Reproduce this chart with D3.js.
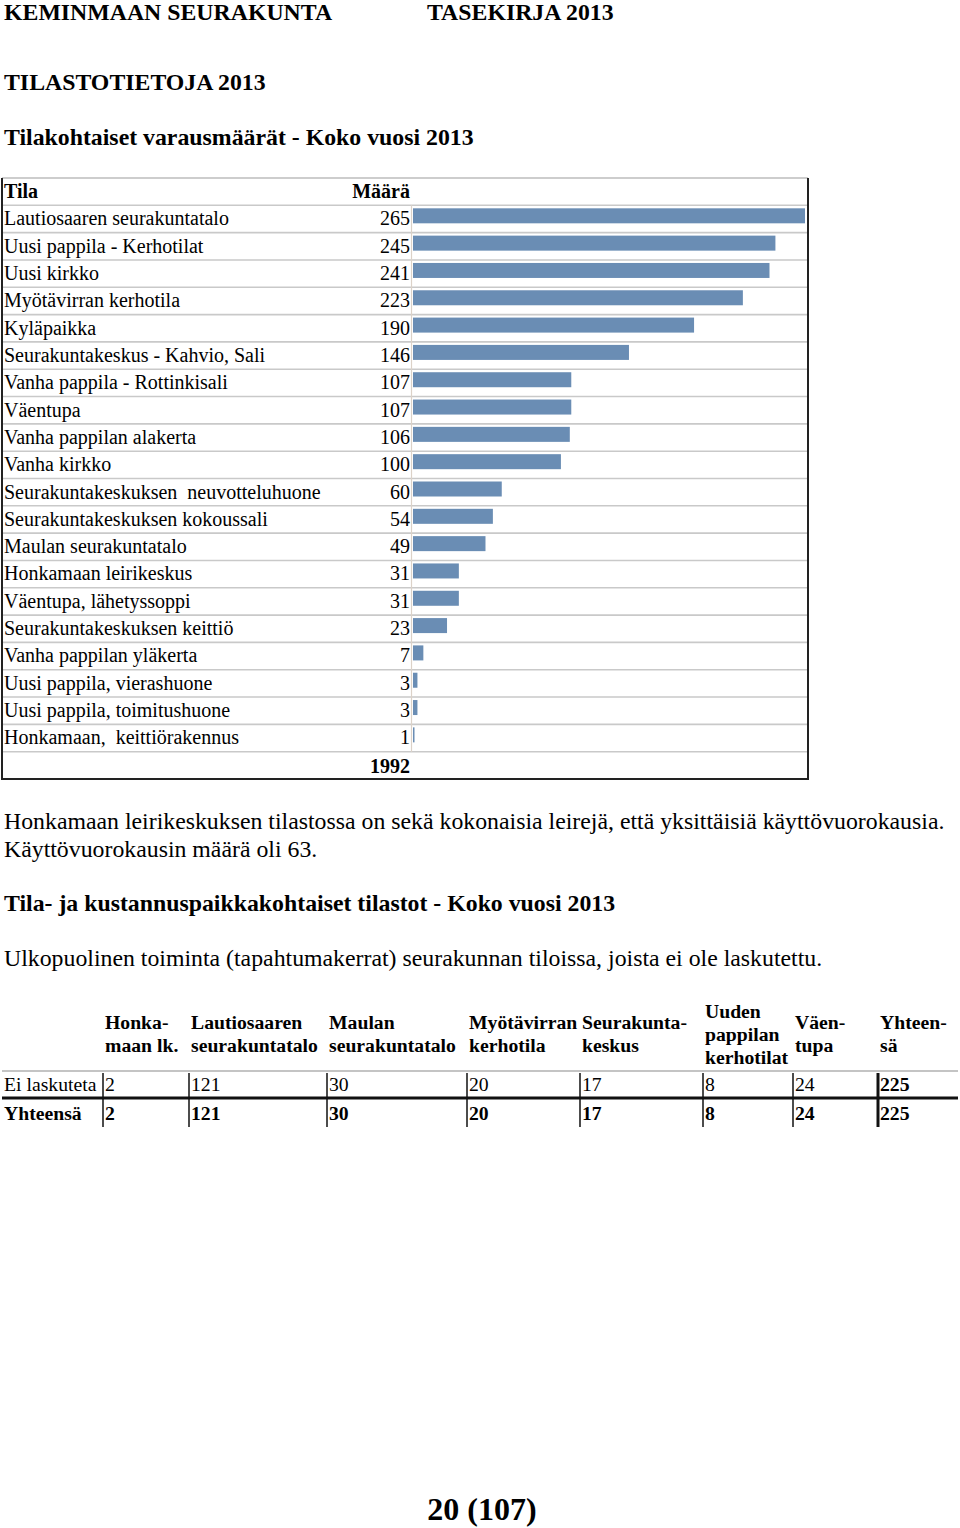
<!DOCTYPE html>
<html><head><meta charset="utf-8">
<script src="https://cdn.jsdelivr.net/npm/d3@7"></script>
<style>body{margin:0;background:#fff}svg{display:block}text{font-family:"Liberation Serif","Times New Roman",serif;fill:#000}</style>
</head><body>
<script>
const tilat = ["Lautiosaaren seurakuntatalo","Uusi pappila - Kerhotilat","Uusi kirkko","Myötävirran kerhotila","Kyläpaikka","Seurakuntakeskus - Kahvio, Sali","Vanha pappila - Rottinkisali","Väentupa","Vanha pappilan alakerta","Vanha kirkko","Seurakuntakeskuksen  neuvotteluhuone","Seurakuntakeskuksen kokoussali","Maulan seurakuntatalo","Honkamaan leirikeskus","Väentupa, lähetyssoppi","Seurakuntakeskuksen keittiö","Vanha pappilan yläkerta","Uusi pappila, vierashuone","Uusi pappila, toimitushuone","Honkamaan,  keittiörakennus"];
const maarat = [265,245,241,223,190,146,107,107,106,100,60,54,49,31,31,23,7,3,3,1];
const yhteensa = 1992;
const headers2 = [["Honka-","maan lk."],["Lautiosaaren","seurakuntatalo"],["Maulan","seurakuntatalo"],["Myötävirran","kerhotila"],["Seurakunta-","keskus"],["Uuden","pappilan","kerhotilat"],["Väen-","tupa"],["Yhteen-","sä"]];
const rowLabels2 = ["Ei laskuteta","Yhteensä"];
const eiLaskuteta = [2,121,30,20,17,8,24,225];
const yhteensa2 = [2,121,30,20,17,8,24,225];

const W=960,H=1528;
const svg=d3.select("body").append("svg").attr("width",W).attr("height",H);

function txt(x,y,s,size,bold,anchor){
  return svg.append("text").attr("x",x).attr("y",y).attr("font-size",size)
    .attr("font-weight",bold?"bold":"normal").attr("text-anchor",anchor||"start")
    .style("white-space","pre").text(s);
}
const HS=23.8, PS=23.8, TS=20, T2=19.7;
txt(4,20,"KEMINMAAN SEURAKUNTA",HS,true);
txt(427,20,"TASEKIRJA 2013",HS,true);
txt(4,90,"TILASTOTIETOJA 2013",HS,true);
txt(4,145,"Tilakohtaiset varausmäärät - Koko vuosi 2013",HS,true);

// Table 1
const tTop=178, tBot=779, tL=2, tR=808, nRows=tilat.length+2;
const y=d3.scaleBand().domain(d3.range(nRows)).range([tTop,tBot]);
const x=d3.scaleLinear().domain([0,d3.max(maarat)]).range([413,805]);
const g=svg.append("g");
for(let i=1;i<nRows;i++){
  g.append("line").attr("x1",tL).attr("x2",tR).attr("y1",y(i)).attr("y2",y(i))
   .attr("stroke","#c9c9c9").attr("stroke-width",1.6);
}
g.append("line").attr("x1",tL).attr("x2",tR).attr("y1",tTop).attr("y2",tTop).attr("stroke","#bdbdbd").attr("stroke-width",1.6);
g.append("line").attr("x1",411.5).attr("x2",411.5).attr("y1",y(1)).attr("y2",y(nRows-1)).attr("stroke","#dcd2c8").attr("stroke-width",1.2);
g.selectAll("rect.bar").data(maarat).join("rect").attr("class","bar")
  .attr("x",x(0)).attr("y",(d,i)=>y(i+1)+3).attr("height",15)
  .attr("width",d=>Math.max(1.5,x(d)-x(0))).attr("fill","#6a8db4");
txt(4,y(0)+20,"Tila",TS,true);
txt(410,y(0)+20,"Määrä",TS,true,"end");
tilat.forEach((t,i)=>{
  txt(4,y(i+1)+20,t,TS,false);
  txt(410,y(i+1)+20,maarat[i],TS,false,"end");
});
txt(410,y(nRows-1)+21,yhteensa,TS,true,"end");
g.append("path").attr("d",`M${tL},${tTop}V${tBot}H${tR}V${tTop}`).attr("fill","none").attr("stroke","#222").attr("stroke-width",2);

txt(4,829,"Honkamaan leirikeskuksen tilastossa on sekä kokonaisia leirejä, että yksittäisiä käyttövuorokausia.",PS,false);
txt(4,857,"Käyttövuorokausin määrä oli 63.",PS,false);
txt(4,911,"Tila- ja kustannuspaikkakohtaiset tilastot - Koko vuosi 2013",PS,true);
txt(4,966,"Ulkopuolinen toiminta (tapahtumakerrat) seurakunnan tiloissa, joista ei ole laskutettu.",PS,false);

// Table 2
const colX=[103,189,327,467,580,703,793,878];
headers2.forEach((h,i)=>{
  const start = h.length===3 ? 1018 : 1029;
  h.forEach((l,j)=>txt(colX[i]+2,start+j*23,l,T2,true));
});
svg.append("line").attr("x1",2).attr("x2",958).attr("y1",1071).attr("y2",1071).attr("stroke","#c4c4c4").attr("stroke-width",2);
svg.append("line").attr("x1",2).attr("x2",958).attr("y1",1098).attr("y2",1098).attr("stroke","#111").attr("stroke-width",3);
txt(4,1091,rowLabels2[0],T2,false);
txt(4,1120,rowLabels2[1],T2,true);
eiLaskuteta.forEach((v,i)=>txt(colX[i]+2,1091,v,T2,i===7));
yhteensa2.forEach((v,i)=>txt(colX[i]+2,1120,v,T2,true));
colX.forEach((cx,i)=>{
  svg.append("line").attr("x1",cx).attr("x2",cx).attr("y1",1073).attr("y2",1127)
   .attr("stroke","#111").attr("stroke-width",i===7?3:1.5);
});

txt(482,1520,"20 (107)",32,true,"middle");
</script>
</body></html>
